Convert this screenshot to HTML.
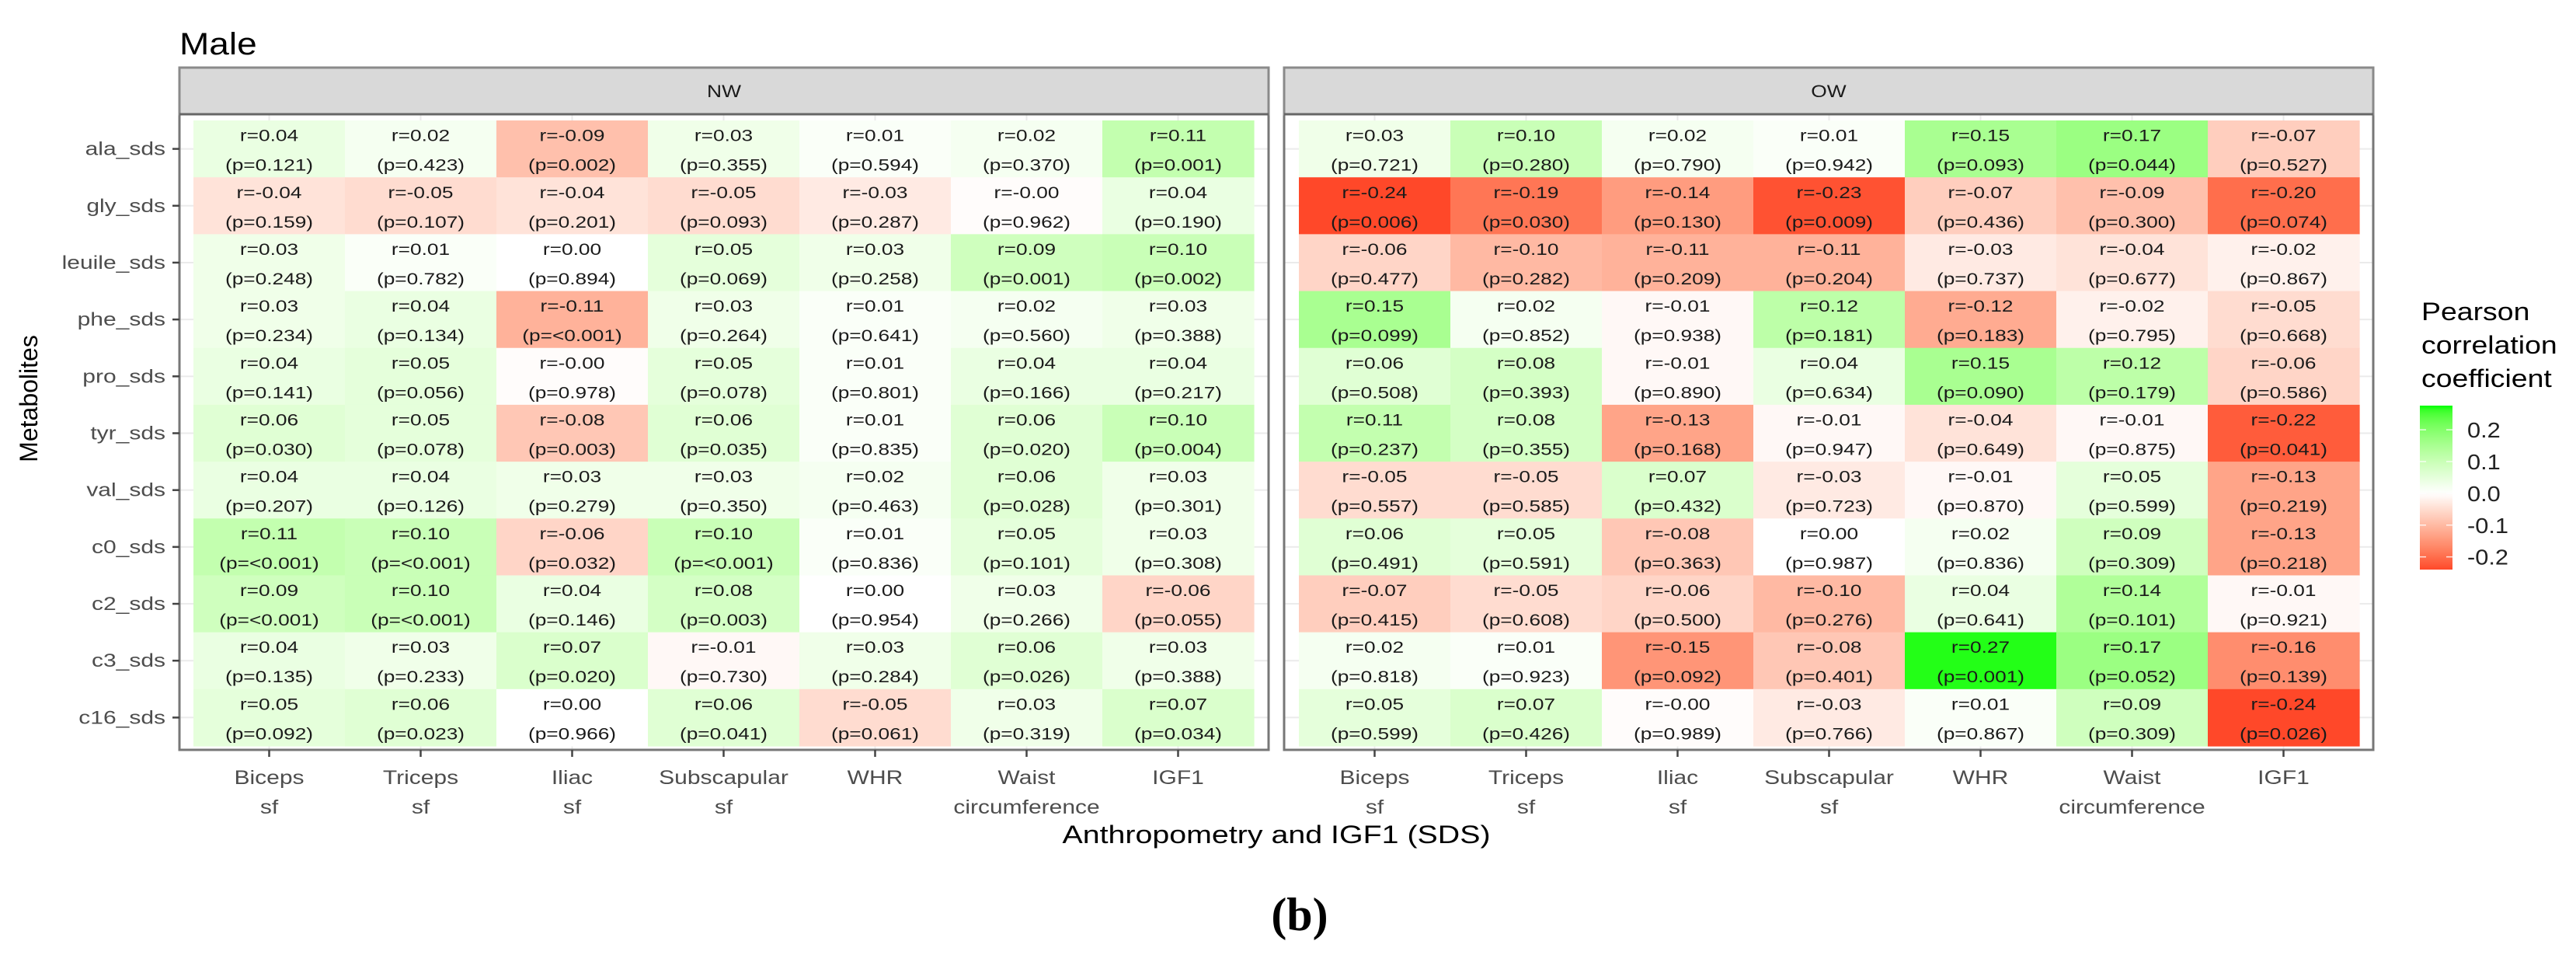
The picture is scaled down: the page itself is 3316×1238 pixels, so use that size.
<!DOCTYPE html>
<html><head><meta charset="utf-8"><title>Male correlations</title>
<style>
html,body{margin:0;padding:0;background:#fff;}
svg{display:block;}
text{font-family:"Liberation Sans",sans-serif;}
</style></head>
<body>
<svg id="chart" width="3316" height="1238" viewBox="0 0 3316 1238" xmlns="http://www.w3.org/2000/svg"></svg>
<script>
const rowLabels = ["ala_sds","gly_sds","leuile_sds","phe_sds","pro_sds","tyr_sds","val_sds","c0_sds","c2_sds","c3_sds","c16_sds"];
const colLabels = [["Biceps","sf"],["Triceps","sf"],["Iliac","sf"],["Subscapular","sf"],["WHR"],["Waist","circumference"],["IGF1"]];
const panels = ["NW","OW"];
const rNW = [
 [0.04,0.02,-0.09,0.03,0.01,0.02,0.11],
 [-0.04,-0.05,-0.04,-0.05,-0.03,-0.004,0.04],
 [0.03,0.01,0.00,0.05,0.03,0.09,0.10],
 [0.03,0.04,-0.11,0.03,0.01,0.02,0.03],
 [0.04,0.05,-0.004,0.05,0.01,0.04,0.04],
 [0.06,0.05,-0.08,0.06,0.01,0.06,0.10],
 [0.04,0.04,0.03,0.03,0.02,0.06,0.03],
 [0.11,0.10,-0.06,0.10,0.01,0.05,0.03],
 [0.09,0.10,0.04,0.08,0.00,0.03,-0.06],
 [0.04,0.03,0.07,-0.01,0.03,0.06,0.03],
 [0.05,0.06,0.00,0.06,-0.05,0.03,0.07]
];
const pNW = [
 ["0.121","0.423","0.002","0.355","0.594","0.370","0.001"],
 ["0.159","0.107","0.201","0.093","0.287","0.962","0.190"],
 ["0.248","0.782","0.894","0.069","0.258","0.001","0.002"],
 ["0.234","0.134","<0.001","0.264","0.641","0.560","0.388"],
 ["0.141","0.056","0.978","0.078","0.801","0.166","0.217"],
 ["0.030","0.078","0.003","0.035","0.835","0.020","0.004"],
 ["0.207","0.126","0.279","0.350","0.463","0.028","0.301"],
 ["<0.001","<0.001","0.032","<0.001","0.836","0.101","0.308"],
 ["<0.001","<0.001","0.146","0.003","0.954","0.266","0.055"],
 ["0.135","0.233","0.020","0.730","0.284","0.026","0.388"],
 ["0.092","0.023","0.966","0.041","0.061","0.319","0.034"]
];
const rOW = [
 [0.03,0.10,0.02,0.01,0.15,0.17,-0.07],
 [-0.24,-0.19,-0.14,-0.23,-0.07,-0.09,-0.20],
 [-0.06,-0.10,-0.11,-0.11,-0.03,-0.04,-0.02],
 [0.15,0.02,-0.01,0.12,-0.12,-0.02,-0.05],
 [0.06,0.08,-0.01,0.04,0.15,0.12,-0.06],
 [0.11,0.08,-0.13,-0.01,-0.04,-0.01,-0.22],
 [-0.05,-0.05,0.07,-0.03,-0.01,0.05,-0.13],
 [0.06,0.05,-0.08,0.00,0.02,0.09,-0.13],
 [-0.07,-0.05,-0.06,-0.10,0.04,0.14,-0.01],
 [0.02,0.01,-0.15,-0.08,0.27,0.17,-0.16],
 [0.05,0.07,-0.004,-0.03,0.01,0.09,-0.24]
];
const pOW = [
 ["0.721","0.280","0.790","0.942","0.093","0.044","0.527"],
 ["0.006","0.030","0.130","0.009","0.436","0.300","0.074"],
 ["0.477","0.282","0.209","0.204","0.737","0.677","0.867"],
 ["0.099","0.852","0.938","0.181","0.183","0.795","0.668"],
 ["0.508","0.393","0.890","0.634","0.090","0.179","0.586"],
 ["0.237","0.355","0.168","0.947","0.649","0.875","0.041"],
 ["0.557","0.585","0.432","0.723","0.870","0.599","0.219"],
 ["0.491","0.591","0.363","0.987","0.836","0.309","0.218"],
 ["0.415","0.608","0.500","0.276","0.641","0.101","0.921"],
 ["0.818","0.923","0.092","0.401","0.001","0.052","0.139"],
 ["0.599","0.426","0.989","0.766","0.867","0.309","0.026"]
];
const legendTicks = [0.2,0.1,0.0,-0.1,-0.2];
const legendMin = -0.24, legendMax = 0.276;

const NS="http://www.w3.org/2000/svg";
const svg=document.getElementById('chart');
function mk(tag,attrs,parent){const e=document.createElementNS(NS,tag);for(const k in attrs)e.setAttribute(k,attrs[k]);(parent||svg).appendChild(e);return e;}
function txt(str,x,y,size,color,anchor,sx,parent,weight,family){
  const t=mk('text',{transform:`translate(${x},${y}) scale(${sx||1},1)`,'font-size':size,fill:color,'text-anchor':anchor||'middle'},parent);
  if(weight)t.setAttribute('font-weight',weight);
  if(family)t.setAttribute('style','font-family:'+family);
  t.textContent=str;return t;}

function s2l(c){c/=255;return c<=0.04045?c/12.92:Math.pow((c+0.055)/1.055,2.4);}
function l2s(c){c=c<=0.0031308?12.92*c:1.055*Math.pow(c,1/2.4)-0.055;return Math.max(0,Math.min(255,Math.round(c*255)));}
function toLab(rgb){const r=s2l(rgb[0]),g=s2l(rgb[1]),b=s2l(rgb[2]);
 let X=(0.4124*r+0.3576*g+0.1805*b)/0.95047,Y=0.2126*r+0.7152*g+0.0722*b,Z=(0.0193*r+0.1192*g+0.9505*b)/1.08883;
 const f=t=>t>0.008856?Math.cbrt(t):7.787*t+16/116;X=f(X);Y=f(Y);Z=f(Z);return[116*Y-16,500*(X-Y),200*(Y-Z)];}
function fromLab(l){let Y=(l[0]+16)/116,X=l[1]/500+Y,Z=Y-l[2]/200;
 const fi=t=>{const t3=t*t*t;return t3>0.008856?t3:(t-16/116)/7.787;};X=fi(X)*0.95047;Y=fi(Y);Z=fi(Z)*1.08883;
 const r=3.2406*X-1.5372*Y-0.4986*Z,g=-0.9689*X+1.8758*Y+0.0415*Z,b=0.0557*X-0.2040*Y+1.0570*Z;
 return `rgb(${l2s(r)},${l2s(g)},${l2s(b)})`;}
const LR=toLab([255,0,0]),LW=toLab([255,255,255]),LG=toLab([0,255,0]);
const maxAbs=Math.max(Math.abs(legendMin),Math.abs(legendMax));
function colorOf(v){const t=Math.min(1,Math.abs(v)/maxAbs);const e=v<0?LR:LG;return fromLab(LW.map((w,i)=>w+(e[i]-w)*t));}

const panelX=[[231,1633],[1653,3055]];
const stripTop=87,stripBot=147,plotBot=965;
const tileTop=155,tileBot=960;
const rowH=(tileBot-tileTop)/rowLabels.length;
const colW=195;
const tileLeft=[249,1672];
function yPos(i){return tileTop+rowH*(i+0.5);}
function xPos(p,j){return tileLeft[p]+colW*(j+0.5);}

const title=txt("Male",231,70,40,"#000","start",1.15);



const rData=[rNW,rOW],pData=[pNW,pOW];
panels.forEach((pn,p)=>{
  const [x0,x1]=panelX[p];
  const g=mk('g',{});
  
  
  rowLabels.forEach((_,i)=>mk('line',{x1:x0,x2:x1,y1:yPos(i),y2:yPos(i),stroke:'#ebebeb','stroke-width':2},g));
  colLabels.forEach((_,j)=>mk('line',{x1:xPos(p,j),x2:xPos(p,j),y1:stripBot,y2:plotBot,stroke:'#ebebeb','stroke-width':2},g));
  rowLabels.forEach((rl,i)=>{
    colLabels.forEach((cl,j)=>{
      const v=rData[p][i][j];
      const cell=mk('g',{},g);
      
      
      mk('rect',{x:xPos(p,j)-colW/2,y:yPos(i)-rowH/2,width:colW+0.6,height:rowH+0.6,fill:colorOf(v)},cell);
      txt('r='+v.toFixed(2),xPos(p,j),yPos(i)-10,21,'#1a1a1a','middle',1.25,cell);
      txt('(p='+pData[p][i][j]+')',xPos(p,j),yPos(i)+28,21,'#1a1a1a','middle',1.25,cell);
    });
  });
  mk('rect',{x:x0,y:stripBot,width:x1-x0,height:plotBot-stripBot,fill:'none',stroke:'#777','stroke-width':3},g);
  const st=mk('g',{});
  
  
  mk('rect',{x:x0,y:stripTop,width:x1-x0,height:stripBot-stripTop,fill:'#d9d9d9',stroke:'#8a8a8a','stroke-width':3},st);
  mk('line',{x1:x0,x2:x1,y1:stripBot,y2:stripBot,stroke:'#666','stroke-width':3},st);
  txt(pn,(x0+x1)/2,stripTop+38,22,'#1a1a1a','middle',1.2,st);
  colLabels.forEach((cl,j)=>{
    const tg=mk('g',{});
    
    
    mk('line',{x1:xPos(p,j),x2:xPos(p,j),y1:plotBot,y2:plotBot+9,stroke:'#444','stroke-width':2.5},tg);
    cl.forEach((ln,k)=>txt(ln,xPos(p,j),1009+k*38,25,'#4d4d4d','middle',1.2,tg));
  });
});

rowLabels.forEach((rl,i)=>{
  const yg=mk('g',{});
  
  
  mk('line',{x1:222,x2:231,y1:yPos(i),y2:yPos(i),stroke:'#444','stroke-width':2.5},yg);
  txt(rl,213,yPos(i)+8,24,'#4d4d4d','end',1.25,yg);
});

const yt=mk('text',{transform:'translate(48,513) rotate(-90)','font-size':32,fill:'#000','text-anchor':'middle'});
yt.textContent='Metabolites';



const xt=txt('Anthropometry and IGF1 (SDS)',1643,1085,32,'#000','middle',1.23);



const cap=txt('(b)',1673,1197,60,'#000','middle',1,null,'bold','"Liberation Serif",serif');



const lg=mk('g',{});


['Pearson','correlation','coefficient'].forEach((s,k)=>txt(s,3117,412+k*43,32,'#000','start',1.17,lg));
const defs=mk('defs',{});
const grad=mk('linearGradient',{id:'lgGrad',x1:0,y1:0,x2:0,y2:1},defs);
for(let k=0;k<=40;k++){const v=legendMax-(legendMax-legendMin)*k/40;mk('stop',{offset:(k/40),'stop-color':colorOf(v)},grad);}
const barTop=522,barBot=733,barX=3115,barW=42;
const bar=mk('rect',{x:barX,y:barTop,width:barW,height:barBot-barTop,fill:'url(#lgGrad)'},lg);


function ly(v){return barTop+(legendMax-v)/(legendMax-legendMin)*(barBot-barTop);}
legendTicks.forEach(v=>{
  mk('line',{x1:barX,x2:barX+8,y1:ly(v),y2:ly(v),stroke:'#fff','stroke-width':1.5,opacity:0.8},lg);
  mk('line',{x1:barX+barW-8,x2:barX+barW,y1:ly(v),y2:ly(v),stroke:'#fff','stroke-width':1.5,opacity:0.8},lg);
  const t=txt(v.toFixed(1),3176,ly(v)+10,28,'#222','start',1.1,lg);
  
  
});
</script>
</body></html>
